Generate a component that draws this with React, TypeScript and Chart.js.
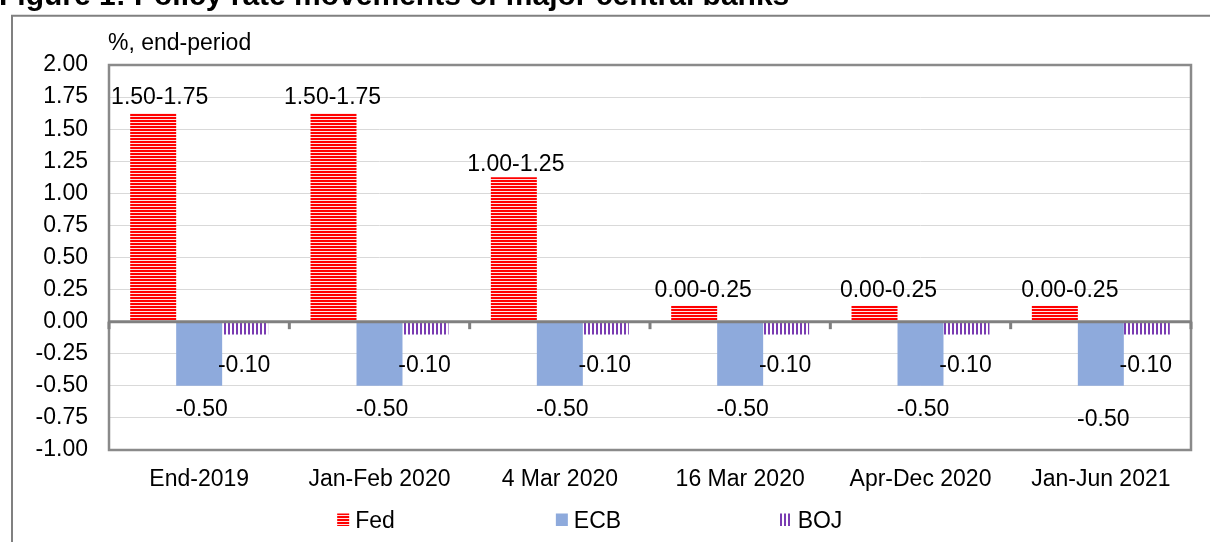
import React, { useEffect, useRef } from "react";
import { Chart, registerables } from "chart.js";

Chart.register(...registerables);

// ---------- data ----------
const title = "Figure 1: Policy rate movements of major central banks";
const unitLabel = "%, end-period";
const categories = ["End-2019", "Jan-Feb 2020", "4 Mar 2020", "16 Mar 2020", "Apr-Dec 2020", "Jan-Jun 2021"];
const seriesNames = ["Fed", "ECB", "BOJ"];
// Fed target range midpoints, with the range shown as label
const fedValues = [1.625, 1.625, 1.125, 0.125, 0.125, 0.125];
const fedRangeLabels = ["1.50-1.75", "1.50-1.75", "1.00-1.25", "0.00-0.25", "0.00-0.25", "0.00-0.25"];
const ecbValues = [-0.5, -0.5, -0.5, -0.5, -0.5, -0.5];
const bojValues = [-0.1, -0.1, -0.1, -0.1, -0.1, -0.1];
const yMin = -1;
const yMax = 2;
const yStep = 0.25;

// ---------- label placement (layout, not data) ----------
const fedLabelDx = [6.5, -1, 2, 9, 14, 15];
const fedLabelDy = [-17, -17.5, -14.5, -16.5, -16.5, -16.5];
const ecbLabelDx = [2.5, 2.5, 2.5, 2.5, 2.5, 2.5];
const ecbLabelDy = [22, 22, 22, 22, 22, 32];
const bojLabelDx = [-1, -1, -1, -1, -1, -1];
const bojLabelDy = [29.5, 29.5, 29.5, 29.5, 29.5, 29.5];

const FONT = '"Liberation Sans", Arial, sans-serif';
const FS = 23;
const ECB_COLOR = "#8eaadc";

function makeFedPattern(): CanvasPattern | string {
  const c = document.createElement("canvas");
  c.width = 4;
  c.height = 3;
  const g = c.getContext("2d");
  if (!g) return "#ff0000";
  g.fillStyle = "#ffe2e2";
  g.fillRect(0, 0, 4, 3);
  g.fillStyle = "#ff0000";
  g.fillRect(0, 0, 4, 2);
  return g.createPattern(c, "repeat") || "#ff0000";
}

function makeBojPattern(): CanvasPattern | string {
  const c = document.createElement("canvas");
  c.width = 4;
  c.height = 4;
  const g = c.getContext("2d");
  if (!g) return "#7030a0";
  g.fillStyle = "#ffffff";
  g.fillRect(0, 0, 4, 4);
  g.fillStyle = "#7a3cb2";
  g.fillRect(0, 0, 2, 4);
  return g.createPattern(c, "repeat") || "#7030a0";
}

const decorPlugin = {
  id: "decor",
  beforeDraw(chart: any) {
    const ctx = chart.ctx as CanvasRenderingContext2D;
    const { width, height, chartArea } = chart;
    ctx.save();
    ctx.fillStyle = "#ffffff";
    ctx.fillRect(0, 0, width, height);
    // cut-off figure title
    ctx.fillStyle = "#000000";
    ctx.textAlign = "left";
    ctx.textBaseline = "alphabetic";
    ctx.font = `bold 30px ${FONT}`;
    ctx.fillText(title, -1, 5);
    // outer frame
    ctx.strokeStyle = "#808080";
    ctx.lineWidth = 2;
    ctx.beginPath();
    ctx.moveTo(12, height + 10);
    ctx.lineTo(12, 15.7);
    ctx.lineTo(width + 10, 15.7);
    ctx.stroke();
    // unit label
    ctx.font = `${FS}px ${FONT}`;
    ctx.fillText(unitLabel, chartArea.left - 1, 50);
    ctx.restore();
  },
  afterDatasetsDraw(chart: any) {
    const ctx = chart.ctx as CanvasRenderingContext2D;
    const { chartArea, scales } = chart;
    const xs = scales.x;
    const ys = scales.y;
    ctx.save();
    // plot border
    ctx.strokeStyle = "#8a8a8a";
    ctx.lineWidth = 2.5;
    ctx.strokeRect(chartArea.left, chartArea.top, chartArea.right - chartArea.left, chartArea.bottom - chartArea.top);
    // zero line
    const y0 = ys.getPixelForValue(0);
    ctx.strokeStyle = "#808080";
    ctx.lineWidth = 3;
    ctx.beginPath();
    ctx.moveTo(chartArea.left - 1, y0);
    ctx.lineTo(chartArea.right + 1, y0);
    ctx.stroke();
    // category tick marks on zero line
    ctx.fillStyle = "#808080";
    const n = categories.length;
    for (let i = 0; i <= n; i++) {
      let x: number;
      if (i === 0) x = chartArea.left;
      else if (i === n) x = chartArea.right;
      else x = (xs.getPixelForValue(i - 1) + xs.getPixelForValue(i)) / 2;
      ctx.fillRect(x - 1.5, y0, 3, 7.5);
    }
    // data labels
    ctx.fillStyle = "#000000";
    ctx.font = `${FS}px ${FONT}`;
    ctx.textAlign = "center";
    ctx.textBaseline = "alphabetic";
    const capHalf = FS * 0.358;
    const fedMeta = chart.getDatasetMeta(0);
    const ecbMeta = chart.getDatasetMeta(1);
    const bojMeta = chart.getDatasetMeta(2);
    fedMeta.data.forEach((el: any, i: number) => {
      ctx.fillText(fedRangeLabels[i], el.x + fedLabelDx[i], el.y + fedLabelDy[i] + capHalf);
    });
    ecbMeta.data.forEach((el: any, i: number) => {
      ctx.fillText(ecbValues[i].toFixed(2), el.x + ecbLabelDx[i], el.y + ecbLabelDy[i] + capHalf);
    });
    bojMeta.data.forEach((el: any, i: number) => {
      ctx.fillText(bojValues[i].toFixed(2), el.x + bojLabelDx[i], el.y + bojLabelDy[i] + capHalf);
    });
    // legend
    const cx = (chartArea.left + chartArea.right) / 2 - 61.5;
    const spacing = 222.5;
    const legendY = 520;
    ctx.textAlign = "left";
    chart.data.datasets.forEach((ds: any, i: number) => {
      const tw = ctx.measureText(ds.label).width;
      const w = 12 + 6 + tw;
      const left = cx + (i - 1) * spacing - w / 2;
      ctx.fillStyle = ds.backgroundColor;
      ctx.fillRect(left, legendY - 6.5, 12, 12.5);
      ctx.fillStyle = "#000000";
      ctx.fillText(ds.label, left + 18, legendY + capHalf);
    });
    ctx.restore();
  },
};

export default function App() {
  const ref = useRef<HTMLCanvasElement | null>(null);

  useEffect(() => {
    if (!ref.current) return;
    const fedFill = makeFedPattern();
    const bojFill = makeBojPattern();
    const chart = new Chart(ref.current, {
      type: "bar",
      data: {
        labels: categories,
        datasets: [
          { label: seriesNames[0], data: fedValues, backgroundColor: fedFill as any, borderWidth: 0 },
          { label: seriesNames[1], data: ecbValues, backgroundColor: ECB_COLOR, borderWidth: 0 },
          { label: seriesNames[2], data: bojValues, backgroundColor: bojFill as any, borderWidth: 0 },
        ],
      },
      options: {
        responsive: false,
        animation: false,
        devicePixelRatio: 1,
        layout: { padding: { left: 20, right: 19, top: 65, bottom: 42 } },
        datasets: { bar: { barPercentage: 1, categoryPercentage: 0.765 } },
        plugins: { legend: { display: false }, tooltip: { enabled: false }, title: { display: false } },
        scales: {
          x: {
            grid: { display: false, drawTicks: false },
            border: { display: false },
            ticks: { font: { family: FONT, size: FS }, color: "#000000", padding: 16, maxRotation: 0, autoSkip: false },
            afterFit: (s: any) => {
              s.height = 50;
            },
          },
          y: {
            min: yMin,
            max: yMax,
            grid: { color: "#d9d9d9", lineWidth: 1, drawTicks: false },
            border: { display: false },
            ticks: {
              stepSize: yStep,
              font: { family: FONT, size: FS },
              color: "#000000",
              padding: 21,
              callback: (v: any) => Number(v).toFixed(2),
            },
            afterFit: (s: any) => {
              s.width = 89;
            },
          },
        },
      },
      plugins: [decorPlugin],
    });
    return () => chart.destroy();
  }, []);

  return (
    <canvas
      ref={ref}
      width={1210}
      height={542}
      style={{ position: "fixed", left: 0, top: 0, width: 1210, height: 542, display: "block" }}
    />
  );
}
